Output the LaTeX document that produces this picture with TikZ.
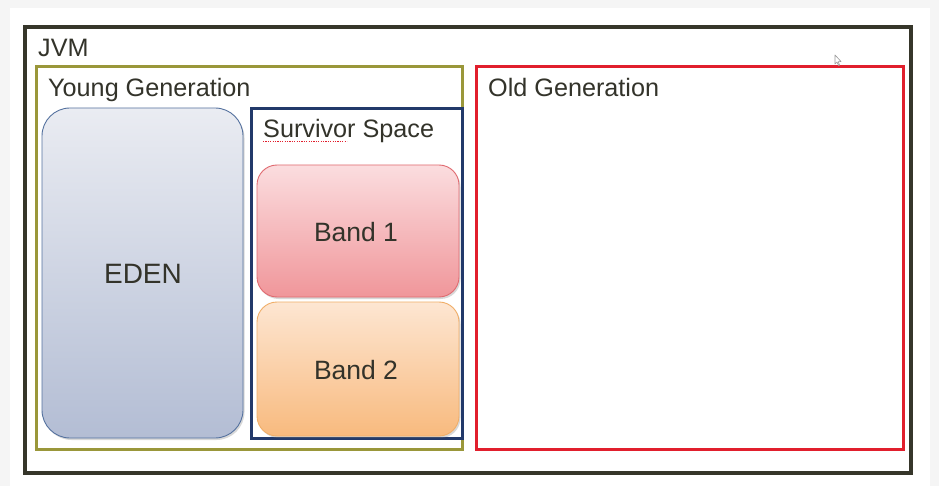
\documentclass[tikz,border=0pt]{standalone}
\usepackage{fontspec}
\setmainfont{Liberation Sans}
\usetikzlibrary{shadows}
\definecolor{txt}{HTML}{33332A}
\definecolor{jvmc}{HTML}{36362A}
\definecolor{olive}{HTML}{9A973A}
\definecolor{navy}{HTML}{22396A}
\definecolor{oldred}{HTML}{E11F2D}
\definecolor{edenT}{HTML}{EAECF2}
\definecolor{edenB}{HTML}{B3BDD4}
\definecolor{edenD}{HTML}{55729F}
\definecolor{b1T}{HTML}{FBDDDF}
\definecolor{b1B}{HTML}{F0969A}
\definecolor{b1D}{HTML}{E06A70}
\definecolor{b2T}{HTML}{FDE6D2}
\definecolor{b2B}{HTML}{F8BA7E}
\definecolor{b2D}{HTML}{F0AE68}
\tikzset{
  region/.style={line width=3pt, inner sep=0pt},
  lbl/.style={anchor=base west, text=txt, inner sep=0pt, font=\fontsize{25.2}{27}\selectfont},
  pool/.style={rounded corners=20pt, line width=0.9pt, drop shadow={shadow xshift=1.5pt, shadow yshift=-2pt, opacity=0.3}},
  bandtxt/.style={text=txt, inner sep=0pt, font=\fontsize{26.5}{28}\selectfont},
}
\begin{document}
\begin{tikzpicture}[x=1pt,y=-1pt]
\useasboundingbox (0,0) rectangle (939,486);
\fill[black!4] (0,0) rectangle (939,486);
\fill[white] (10,8) rectangle (930,486);
% JVM
\draw[region, color=jvmc, line width=3.5pt] (25,27) rectangle (911,473);
\node[lbl] (jvm) at (38,57) {JVM};
% Young generation
\draw[region, color=olive] (36,67) rectangle (462,449);
\node[lbl] (young) at (48,97) {Young Generation};
% Old generation
\draw[region, color=oldred] (476,67) rectangle (903,449);
\node[lbl] (old) at (488,97) {Old Generation};
% Survivor
\draw[region, color=navy] (251,109) rectangle (462,438);
\node[lbl] (surv) at (263,138) {Survivor Space};
\draw[oldred, line width=1pt, dash pattern=on 1.2pt off 1.2pt] (263,141.5) -- (347,141.5);
% Eden
\draw[pool, draw=edenD, top color=edenT, bottom color=edenB, rounded corners=28pt] (42,108) rectangle (243,438);
\node[bandtxt, font=\fontsize{28}{30}\selectfont] (eden) at (143,274) {EDEN};
% Band 1
\draw[pool, draw=b1D, top color=b1T, bottom color=b1B] (257,165) rectangle (459,297);
\node[bandtxt] (band1) at (356,232) {Band 1};
% Band 2
\draw[pool, draw=b2D, top color=b2T, bottom color=b2B] (257,302) rectangle (459,436);
\node[bandtxt] (band2) at (356,370) {Band 2};
% cursor
\draw[gray!80, fill=white, line width=0.6pt, line join=round]
  (835,55) -- (835,64) -- (837,62) -- (838.5,65.5) -- (839.5,65) -- (838.3,61.7) -- (841,61.5) -- cycle;
\end{tikzpicture}
\end{document}
